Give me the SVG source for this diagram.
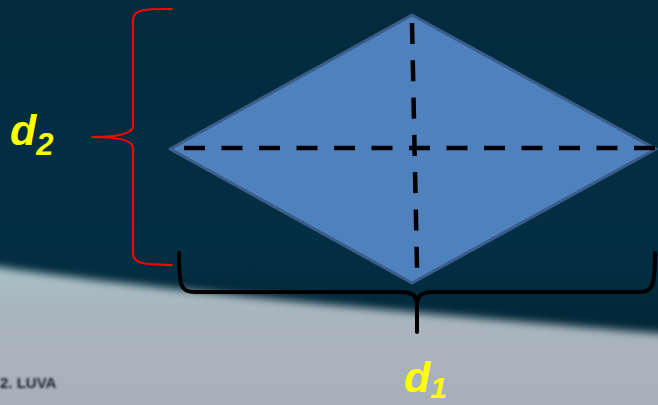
<svg xmlns="http://www.w3.org/2000/svg" width="658" height="405" viewBox="0 0 658 405">
  <defs>
    <linearGradient id="sky" x1="0" y1="0" x2="0" y2="1">
      <stop offset="0" stop-color="#032a3d"/>
      <stop offset="0.6" stop-color="#032f44"/>
      <stop offset="1" stop-color="#01202d"/>
    </linearGradient>
    <linearGradient id="snow" x1="0" y1="0" x2="0" y2="1">
      <stop offset="0" stop-color="#a9c2c8"/>
      <stop offset="0.25" stop-color="#a9b6bf"/>
      <stop offset="1" stop-color="#a8afba"/>
    </linearGradient>
    <filter id="blur" x="-10%" y="-10%" width="120%" height="120%">
      <feGaussianBlur stdDeviation="4"/>
    </filter>
    <filter id="tblur" x="-20%" y="-50%" width="140%" height="200%">
      <feGaussianBlur stdDeviation="1.3"/>
    </filter>
  </defs>
  <style>
    .lbl { font-family: "Liberation Sans", Arial, sans-serif; font-weight: bold; font-style: italic; fill: #ffff00; }
    .dash { fill: none; stroke: #000; stroke-width: 4.5; }
    .brace { fill: none; stroke-linecap: round; stroke-linejoin: round; }
  </style>

  <g id="background">
    <rect width="658" height="405" fill="url(#sky)"/>
    <path d="M-20,264 C120,286 330,306 680,335 L680,425 L-20,425 Z" fill="url(#snow)" filter="url(#blur)"/>
    <text x="0" y="388" font-family="Liberation Sans, Arial, sans-serif" font-size="15" font-weight="bold" fill="#1c2230" filter="url(#tblur)">2. LUVA</text>
  </g>

  <g id="rhombus">
    <polygon points="412,15 656,149 412,283 170,149" fill="#4f81bd" stroke="#3a5d8c" stroke-width="3" stroke-linejoin="round"/>
  </g>

  <g id="connectors">
    <line class="dash" x1="184" y1="148" x2="655" y2="148" stroke-dasharray="21 16.5"/>
    <line class="dash" x1="412" y1="23" x2="417" y2="268" stroke-dasharray="21 16.3"/>
  </g>

  <g id="brace-d2">
    <path class="brace" stroke="#ff0000" stroke-width="2.2" d="M172,9 C150,9 133,8 133,20 L133,126 C133,134 118,137 92,137 C118,137 133,140 133,148 L133,253 C133,266 150,264 172,265"/>
  </g>

  <g id="brace-d1">
    <path class="brace" stroke="#000000" stroke-width="4" d="M179,253 C179,285 180,292 195,292 L402,292 C412,292 417,296 417,304 L417,332 M417,304 C417,296 422,292 432,292 L640,292 C653,292 655,285 655,253"/>
  </g>

  <g id="label-d2">
    <text class="lbl" x="10" y="145" font-size="43">d<tspan font-size="31" dy="10">2</tspan></text>
  </g>

  <g id="label-d1">
    <text class="lbl" x="404" y="392" font-size="43">d<tspan font-size="30" dy="6">1</tspan></text>
  </g>
</svg>
